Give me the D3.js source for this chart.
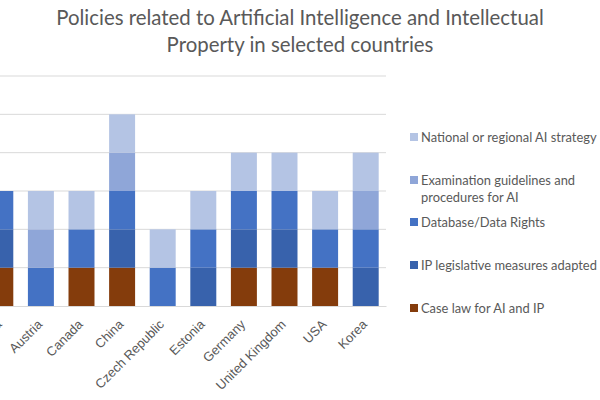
<!DOCTYPE html>
<html>
<head>
<meta charset="utf-8">
<script src="https://cdn.jsdelivr.net/npm/d3@7"></script>
<style>
  body { margin: 0; background: #fff; }
  svg { display: block; font-family: Lato, "Open Sans", sans-serif; }
</style>
</head>
<body>
<div id="chart"></div>
<script>
const countries = ["Australia", "Austria", "Canada", "China", "Czech Republic", "Estonia", "Germany", "United Kingdom", "USA", "Korea"];
const caseLaw        = [1, 0, 1, 1, 0, 0, 1, 1, 1, 0];
const ipLegislative  = [1, 0, 0, 1, 0, 1, 1, 1, 0, 1];
const dataRights     = [1, 1, 1, 1, 1, 1, 1, 1, 1, 1];
const examGuidelines = [0, 1, 0, 1, 0, 0, 0, 0, 0, 1];
const aiStrategy     = [0, 1, 1, 1, 1, 1, 1, 1, 1, 1];
const yTicks = [0, 1, 2, 3, 4, 5, 6];

const seriesNames = ["Case law for AI and IP", "IP legislative measures adapted", "Database/Data Rights", "Examination guidelines and procedures for AI", "National or regional AI strategy"];
const seriesKeys = ["caseLaw", "ipLegislative", "dataRights", "examGuidelines", "aiStrategy"];
const seriesColors = ["#843c0c", "#3862ac", "#4472c4", "#8fa6d8", "#b4c4e4"];

const W = 600, H = 400;
// the plot starts off the left edge, as in the cropped reference
const x0 = -20, x1 = 386, yTop = 76, yBottom = 306;

const rows = countries.map((c, i) => ({
  country: c,
  caseLaw: caseLaw[i],
  ipLegislative: ipLegislative[i],
  dataRights: dataRights[i],
  examGuidelines: examGuidelines[i],
  aiStrategy: aiStrategy[i]
}));

const stacked = d3.stack().keys(seriesKeys)(rows);

const svg = d3.select("#chart").append("svg")
  .attr("width", W)
  .attr("height", H);

const x = d3.scaleBand().domain(countries).range([x0, x1]).paddingInner(0.36).paddingOuter(0.18);
const y = d3.scaleLinear().domain([0, 6]).range([yBottom, yTop]);

// gridlines
svg.append("g")
  .selectAll("line")
  .data(yTicks.slice(1))
  .join("line")
  .attr("x1", x0)
  .attr("x2", x1)
  .attr("y1", d => y(d))
  .attr("y2", d => y(d))
  .attr("stroke", "#d9d9d9")
  .attr("stroke-width", 1);

// stacked bars
svg.append("g")
  .selectAll("g")
  .data(stacked)
  .join("g")
  .attr("fill", (d, i) => seriesColors[i])
  .selectAll("rect")
  .data(d => d)
  .join("rect")
  .attr("x", d => x(d.data.country))
  .attr("y", d => y(d[1]))
  .attr("width", x.bandwidth())
  .attr("height", d => y(d[0]) - y(d[1]));

// x axis
const xAxis = svg.append("g")
  .attr("transform", `translate(0,${yBottom})`)
  .call(d3.axisBottom(x).tickSize(0).tickSizeOuter(0));
xAxis.select(".domain").attr("stroke", "#d9d9d9");
xAxis.selectAll("text")
  .attr("fill", "#595959")
  .style("font-size", "13px")
  .attr("text-anchor", "end")
  .attr("y", 0)
  .attr("dy", "0.35em")
  .attr("transform", "translate(-1,16) rotate(-45)");

// title
svg.append("text")
  .attr("x", 300)
  .attr("y", 25)
  .attr("text-anchor", "middle")
  .attr("fill", "#595959")
  .style("font-size", "20.4px")
  .text("Policies related to Artificial Intelligence and Intellectual");
svg.append("text")
  .attr("x", 300)
  .attr("y", 52)
  .attr("text-anchor", "middle")
  .attr("fill", "#595959")
  .style("font-size", "20.4px")
  .text("Property in selected countries");

// legend, top entry first
const legendY = [137, 180, 222, 265, 308];
const legend = svg.append("g").attr("transform", "translate(410,0)");
const order = [4, 3, 2, 1, 0];
order.forEach((s, k) => {
  const g = legend.append("g").attr("transform", `translate(0,${legendY[k]})`);
  g.append("rect")
    .attr("x", 0)
    .attr("y", -4)
    .attr("width", 8)
    .attr("height", 8)
    .attr("fill", seriesColors[s]);
  const lines = s === 3 ? ["Examination guidelines and", "procedures for AI"] : [seriesNames[s]];
  lines.forEach((t, j) => {
    g.append("text")
      .attr("x", 11)
      .attr("y", j * 17)
      .attr("dy", "0.35em")
      .attr("fill", "#595959")
      .style("font-size", "12.9px")
      .text(t);
  });
});
</script>
</body>
</html>
